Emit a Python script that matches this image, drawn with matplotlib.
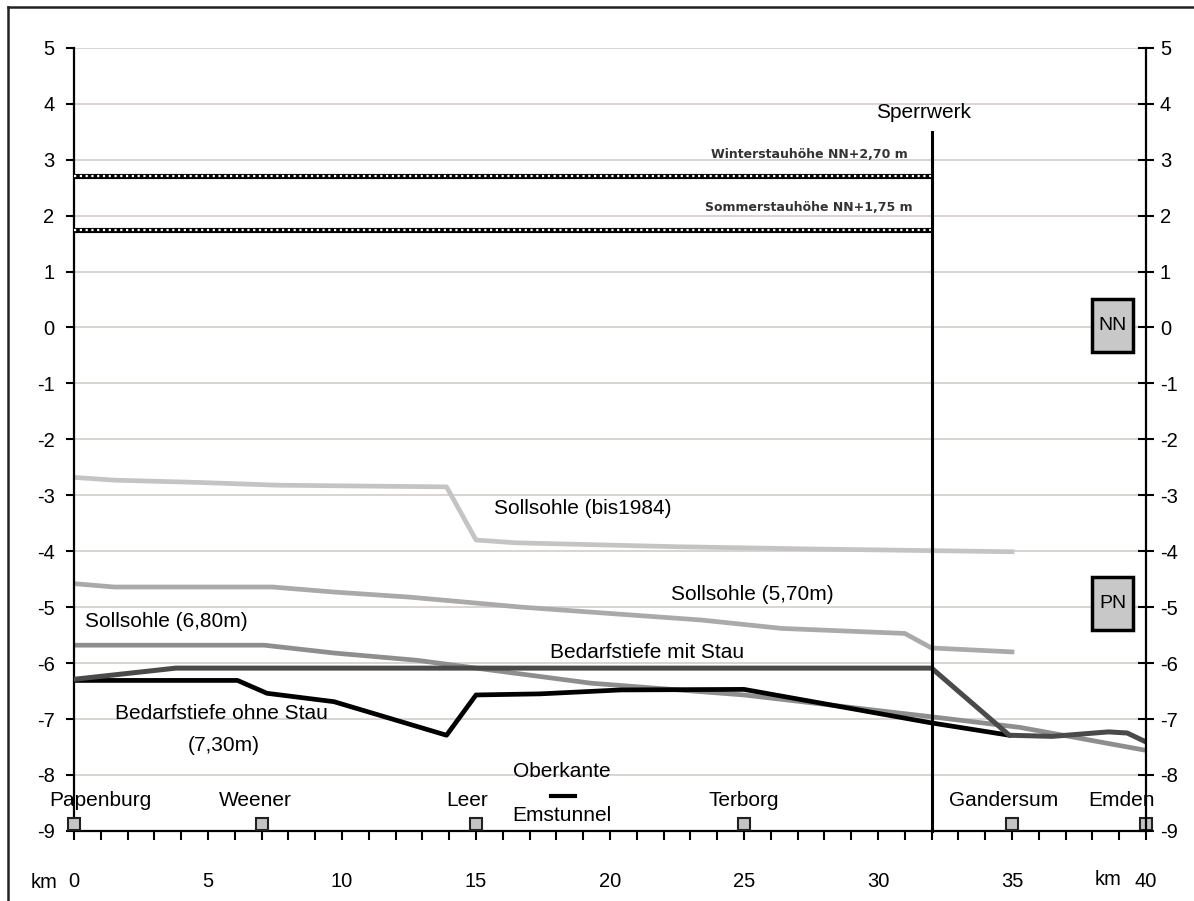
import matplotlib.pyplot as plt
from matplotlib.lines import Line2D
from matplotlib.patches import Rectangle

plt.rcParams['font.family'] = ['Liberation Sans', 'DejaVu Sans']
plt.rcParams['axes.unicode_minus'] = False

# Sohlen- und Tiefenlinien (km, m bezogen auf NN)
km_bis1984 = [0, 1.5, 4.6, 7.6, 13.9, 15.0, 16.5, 22.5, 27.5, 35.0]
y_bis1984 = [-2.68, -2.73, -2.77, -2.82, -2.85, -3.80, -3.85, -3.92, -3.96, -4.01]

km_570 = [0, 1.5, 7.4, 9.7, 12.5, 16.7, 23.4, 26.4, 31.0, 32.0, 35.0]
y_570 = [-4.58, -4.64, -4.64, -4.73, -4.82, -5.0, -5.23, -5.38, -5.47, -5.73, -5.80]

km_680 = [0, 7.1, 9.7, 12.8, 15.0, 19.3, 25.0, 32.0, 35.3, 40.0]
y_680 = [-5.68, -5.68, -5.82, -5.95, -6.09, -6.36, -6.57, -6.96, -7.15, -7.56]

km_ohne = [0, 6.1, 7.2, 9.7, 13.9, 15.0, 17.4, 20.4, 25.0, 32.0, 34.9]
y_ohne = [-6.31, -6.31, -6.54, -6.69, -7.29, -6.57, -6.55, -6.48, -6.47, -7.07, -7.29]

km_mit = [0, 3.8, 32.0, 34.9, 36.5, 38.6, 39.3, 40.0]
y_mit = [-6.29, -6.09, -6.09, -7.29, -7.31, -7.23, -7.25, -7.41]

# Stauhoehen bis zum Sperrwerk
stau_km = [0, 32]
winter_stau = 2.70
sommer_stau = 1.75
sperrwerk_km = 32
sperrwerk_top = 3.5

# Orte an der Ems
orte = ['Papenburg', 'Weener', 'Leer', 'Terborg', 'Gandersum', 'Emden']
orte_km = [0, 7, 15, 25, 35, 40]
orte_text_km = [1.0, 6.75, 14.65, 25.0, 34.7, 39.1]

fig = plt.figure(figsize=(11.94, 9.01), dpi=100)
ax = fig.add_axes([0.062, 0.0778, 0.8978, 0.8692])

# Rahmen oben und links
fig.add_artist(Line2D([0.0067, 1.0], [0.992, 0.992], transform=fig.transFigure, color='#222222', lw=1.8))
fig.add_artist(Line2D([0.0067, 0.0067], [0.0, 0.992], transform=fig.transFigure, color='#222222', lw=1.8))

ax.set_xlim(0, 40)
ax.set_ylim(-9, 5)
for v in range(-8, 6):
    ax.axhline(v, color='#d6ccca', lw=1.2, zorder=0)

# Stauhoehen als Kettenlinie
for lvl in (winter_stau, sommer_stau):
    ax.plot(stau_km, [lvl, lvl], color='black', lw=3.7, solid_capstyle='butt', zorder=3)
    ax.plot(stau_km, [lvl, lvl], color='white', lw=1.6, dashes=(1.0, 1.6), dash_capstyle='butt', zorder=4)

ax.plot(km_bis1984, y_bis1984, color='#c4c4c4', lw=3.4, zorder=2)
ax.plot(km_570, y_570, color='#aaaaaa', lw=3.4, zorder=2)
ax.plot(km_680, y_680, color='#8e8e8e', lw=3.4, zorder=2)
ax.plot(km_ohne, y_ohne, color='black', lw=3.4, zorder=3)
ax.plot(km_mit, y_mit, color='#4a4a4a', lw=3.6, zorder=4)

ax.plot([sperrwerk_km, sperrwerk_km], [-9, sperrwerk_top], color='black', lw=2.2, zorder=5, clip_on=False)

lbl = dict(ha='center', va='center', fontsize=15)
ax.text(31.7, 3.85, 'Sperrwerk', **lbl)

small = dict(family=['Liberation Sans Narrow', 'DejaVu Sans'], fontsize=9, weight='bold', color='#333333')
ax.text(27.45, 3.1, 'Winterstauhöhe NN+2,70 m', ha='center', va='center', **small)
ax.text(27.4, 2.15, 'Sommerstauhöhe NN+1,75 m', ha='center', va='center', **small)

ax.text(19.0, -3.23, 'Sollsohle (bis1984)', **lbl)
ax.text(25.3, -4.77, 'Sollsohle (5,70m)', **lbl)
ax.text(3.43, -5.25, 'Sollsohle (6,80m)', **lbl)
ax.text(21.4, -5.81, 'Bedarfstiefe mit Stau', **lbl)
ax.text(5.5, -6.9, 'Bedarfstiefe ohne Stau', **lbl)
ax.text(5.6, -7.47, '(7,30m)', **lbl)
ax.text(18.2, -7.93, 'Oberkante', **lbl)
ax.plot([17.8, 18.7], [-8.38, -8.38], color='black', lw=3)
ax.text(18.2, -8.72, 'Emstunnel', **lbl)

# Ortsmarken
ax.plot(orte_km, [-8.88] * len(orte_km), 's', ms=9, mfc='#c4c4c4', mec='#222222', mew=1.5,
        zorder=6, clip_on=False)
for name, xk in zip(orte, orte_text_km):
    ax.text(xk, -8.45, name, **lbl)

# NN / PN Kaesten
for txt, yc in (('NN', 0.04), ('PN', -4.93)):
    ax.add_patch(Rectangle((38.0, yc - 0.47), 1.5, 0.94, fc='#c8c8c8', ec='black', lw=2.5, zorder=6))
    ax.text(38.75, yc, txt, ha='center', va='center', fontsize=14, zorder=7)

# Achsen
for s in ('top', 'right'):
    ax.spines[s].set_visible(False)
ax.spines['left'].set_linewidth(1.6)
ax.spines['bottom'].set_linewidth(1.6)
ax.set_yticks(range(-9, 6))
ax.tick_params(axis='y', direction='out', length=6, width=1.5, pad=8, labelsize=14.5)
ax.set_xticks(range(0, 41, 5))
ax.set_xticks(range(0, 41), minor=True)
ax.tick_params(axis='x', which='both', direction='out', length=6.5, width=1.5, pad=23, labelsize=14.5)

ax2 = ax.twinx()
ax2.set_ylim(-9, 5)
ax2.set_yticks(range(-9, 6))
for s in ('top', 'left', 'bottom'):
    ax2.spines[s].set_visible(False)
ax2.spines['right'].set_linewidth(1.6)
ax2.tick_params(axis='y', direction='inout', length=12, width=1.5, pad=4, labelsize=14.5)

ax.text(-1.12, -9.92, 'km', ha='center', va='center', fontsize=14.5, clip_on=False)
ax.text(38.6, -9.86, 'km', ha='center', va='center', fontsize=14.5, clip_on=False)

fig.savefig('out.png', dpi=100)
